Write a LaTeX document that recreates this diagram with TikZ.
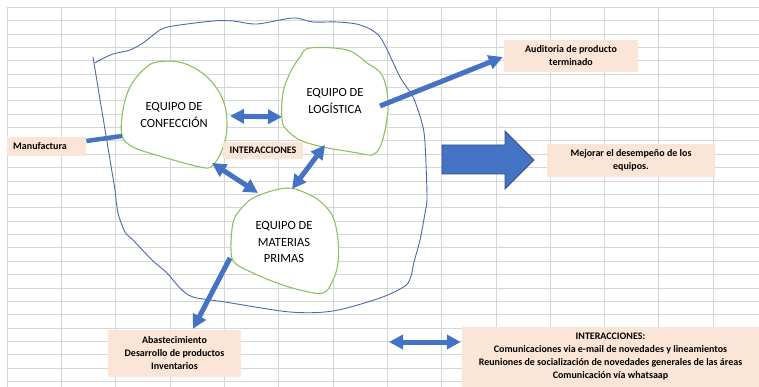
\documentclass[tikz,border=0pt]{standalone}
\usepackage{fontspec}
\setmainfont{Carlito}
\usetikzlibrary{calc,arrows.meta}
\definecolor{peach}{HTML}{FBE5D6}
\definecolor{arrowblue}{HTML}{4472C4}
\definecolor{darkblue}{HTML}{2F528F}
\definecolor{outlineblue}{HTML}{4A69A8}
\definecolor{blobgreen}{HTML}{8CC163}
\definecolor{gridgray}{HTML}{D6D6D6}

\begin{document}
\begin{tikzpicture}[x=1pt,y=-1pt]
\tikzstyle{gridline}=[draw=gridgray, line width=1pt]
\tikzstyle{blob}=[draw=blobgreen, line width=1.1pt, fill=white]
\tikzstyle{team}=[align=center, font=\fontsize{12.5}{16.5}\selectfont]
\tikzstyle{note}=[fill=peach, align=center, inner sep=0pt, font=\bfseries\fontsize{10}{13}\selectfont]
\tikzstyle{link}=[draw=arrowblue, line width=5pt]
\tikzstyle{both}=[link, {Triangle[length=14pt,width=14pt]}-{Triangle[length=14pt,width=14pt]}]
\tikzstyle{one}=[link, -{Triangle[length=14pt,width=14pt]}]

\useasboundingbox (0,0) rectangle (759,387);

% spreadsheet grid
\foreach \i in {0,...,13}
  \draw[gridline] ({7.3+54.3*\i},7.3) -- ({7.3+54.3*\i},387);
\foreach \j in {0,...,28}
  \draw[gridline] (7.3,{7.3+13.37*\j}) -- (759,{7.3+13.37*\j});

% hand drawn outline round the teams
\draw[outlineblue, line width=0.9pt] plot[smooth, tension=0.5] coordinates {(95,63) (100,60) (113,54) (130,50) (143,43) (160,30) (173,26) (213,21) (233,21) (257,24) (293,18) (313,22) (337,22) (360,25) (380,37) (400,77) (413,97) (422,123) (425,143) (427,197) (425,213) (420,240) (414,262) (411,276) (405,286) (380,298) (333,311) (290,312) (225,302) (193,297) (180,288) (167,273) (152,260) (133,240) (125,232) (118,213) (115,190)} -- (93,57);

% teams
\draw[blob] plot[smooth cycle, tension=0.6] coordinates {(157,62) (183,63) (207,77) (223,100) (227,127) (222,150) (212,166) (200,167) (163,157) (133,147) (122,135) (123,110) (130,87) (143,70)};
\node[team] (conf) at (174,115) {EQUIPO DE\\CONFECCIÓN};

\draw[blob] plot[smooth cycle, tension=0.6] coordinates {(310,48) (347,50) (367,63) (382,75) (388,100) (386,125) (380,147) (372,155) (358,153) (323,147) (300,140) (287,130) (282,120) (283,93) (290,73) (300,57)};
\node[team] (logi) at (335,101) {EQUIPO DE\\LOGÍSTICA};

\draw[blob] plot[smooth cycle, tension=0.6] coordinates {(287,188) (310,195) (322,203) (333,217) (338,240) (338,263) (333,280) (323,293) (300,290) (277,283) (253,273) (235,263) (231,250) (233,223) (240,210) (255,197)};
\node[team] (mat) at (284,242) {EQUIPO DE\\MATERIAS\\PRIMAS};

% notes
\node[note, anchor=west, minimum width=79pt, minimum height=19pt, text width=67pt, inner xsep=6pt, align=left] (manuf) at (7,146.5) {Manufactura};
\node[note, minimum width=80pt, minimum height=17pt] (inter) at (263,150.5) {INTERACCIONES};
\node[note, minimum width=134pt, minimum height=32pt] (audit) at (571,56) {Auditoria de producto\\terminado};
\node[note, minimum width=168pt, minimum height=33pt] (mejorar) at (631,160.5) {Mejorar el desempeño de los\\equipos.};
\node[note, minimum width=133pt, minimum height=47pt] (abast) at (174.5,353.5) {Abastecimiento\\Desarrollo de productos\\Inventarios};
\node[note, minimum width=297pt, minimum height=60pt] (interbox) at (610.5,357) {INTERACCIONES:\\Comunicaciones via e-mail de novedades y lineamientos\\Reuniones de socialización de novedades generales de las áreas\\Comunicación vía whatsaap};

% connectors
\coordinate (conf-r) at (230,116);
\coordinate (logi-l) at (282,117);
\coordinate (conf-b) at (212,163);
\coordinate (mat-t) at (258,193);
\coordinate (logi-b) at (325,145);
\coordinate (mat-r) at (292,189);
\coordinate (conf-l) at (122,136);
\coordinate (logi-r) at (380,106);
\coordinate (mat-l) at (230,258);
\coordinate (key-l) at (389,342);

\draw[both] (conf-r) -- (logi-l);
\draw[both] (conf-b) -- (mat-t);
\draw[both] (logi-b) -- (mat-r);
\draw[link, line width=4.5pt] ($(manuf.east)+(0,-5.5)$) -- (conf-l);
\draw[one] (logi-r) -- ($(audit.west)+(-1,1)$);
\draw[one] (mat-l) -- ($(abast.north)+(18.5,-1)$);
\draw[both] (key-l) -- ($(interbox.west)+(-1,-15)$);

% big arrow towards the goal
\draw[fill=arrowblue, draw=darkblue, line width=0.8pt] (442,145) -- (505,145) -- (505,131) -- (534,160) -- (505,189) -- (505,174) -- (442,174) -- cycle;

\end{tikzpicture}
\end{document}
